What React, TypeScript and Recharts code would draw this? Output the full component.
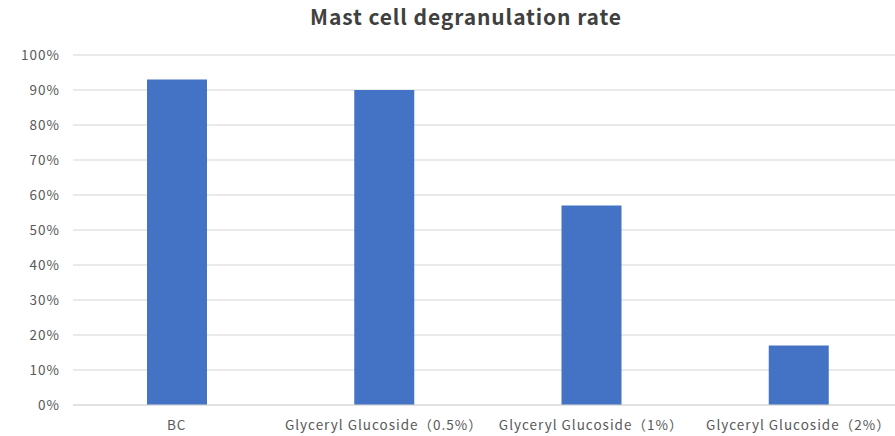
import { Bar, BarChart, CartesianGrid, XAxis, YAxis } from "recharts"

const groups = ["BC", "Glyceryl Glucoside（0.5%）", "Glyceryl Glucoside（1%）", "Glyceryl Glucoside（2%）"]
const rates = [0.93, 0.9, 0.57, 0.17]
const yTicks = [0, 0.1, 0.2, 0.3, 0.4, 0.5, 0.6, 0.7, 0.8, 0.9, 1]

const data = groups.map((name, i) => ({ name, rate: rates[i] }))

const font = "'Noto Sans CJK SC', 'Noto Sans', sans-serif"

export default function App() {
    return (
        <div style={{ position: "absolute", left: 0, top: 0, width: 895, height: 436, overflow: "hidden", background: "#fff" }}>
            <BarChart width={902} height={436} data={data} margin={{ top: 55, right: 0, bottom: 0, left: 0 }}>
                <text x={466} y={25} textAnchor="middle" fontFamily={font} fontWeight="bold" fontSize={21} letterSpacing={0.9} fill="#404040">
                    Mast cell degranulation rate
                </text>
                <CartesianGrid vertical={false} stroke="#e3e3e3" strokeWidth={1.5} />
                <XAxis
                    dataKey="name"
                    height={31}
                    axisLine={{ stroke: "#d9d9d9" }}
                    tickLine={false}
                    tickMargin={9}
                    tick={{ fontSize: 13.5, fill: "#595959", fontFamily: font, letterSpacing: 1 }}
                    interval={0}
                />
                <YAxis
                    width={73}
                    domain={[0, 1]}
                    ticks={yTicks}
                    tickFormatter={(v: number) => `${Math.round(v * 100)}%`}
                    axisLine={false}
                    tickLine={false}
                    tickMargin={7}
                    tick={{ fontSize: 13.5, fill: "#595959", fontFamily: font, letterSpacing: 1 }}
                />
                <Bar dataKey="rate" fill="#4472c4" barSize={60} isAnimationActive={false} />
            </BarChart>
        </div>
    )
}
